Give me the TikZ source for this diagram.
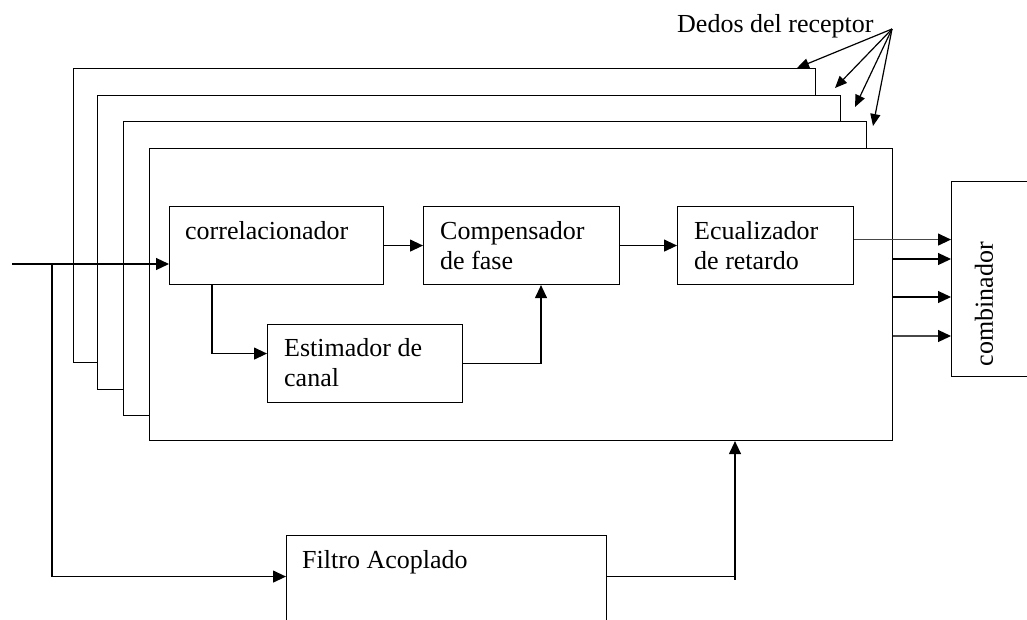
\documentclass[tikz,border=0pt]{standalone}
\usepackage{fontspec}
\setmainfont{Liberation Serif}
\usetikzlibrary{arrows.meta}
\begin{document}
\begin{tikzpicture}[x=1pt,y=-1pt,
  box/.style={draw, line width=1.1pt, inner sep=0pt, anchor=north west, fill=white},
  txt/.style={font=\fontsize{26}{30}\selectfont, inner sep=0pt, anchor=base west},
  conn/.style={line width=1.2pt},
  arr/.style={conn, -{Triangle[length=13pt,width=12pt]}},
  smallarr/.style={conn, -{Triangle[length=12pt,width=10pt]}},
  greyarr/.style={conn, draw=black!72, -{Triangle[length=13pt,width=12pt,color=black]}}
]
\useasboundingbox (0,0) rectangle (1027,619);
\clip (0,0) rectangle (1027,619);
% stacked receiver fingers
\node[box, minimum width=742pt, minimum height=294pt] (f1) at (73,68) {};
\node[box, minimum width=743pt, minimum height=294pt] (f2) at (97,95) {};
\node[box, minimum width=743pt, minimum height=294pt] (f3) at (123,121) {};
\node[box, minimum width=743pt, minimum height=292pt] (f4) at (149,148) {};
% inner blocks
\node[box, minimum width=214pt, minimum height=78pt] (corr) at (169,206) {};
\node[box, minimum width=196pt, minimum height=78pt] (comp) at (423,206) {};
\node[box, minimum width=176pt, minimum height=78pt] (ecu) at (677,206) {};
\node[box, minimum width=195pt, minimum height=78pt] (est) at (267,324) {};
\node[box, minimum width=320pt, minimum height=120pt] (filt) at (286,535) {};
\node[box, minimum width=100pt, minimum height=195pt] (comb) at (951,181) {};
% texts
\node[txt] (tcorr) at (185,239) {correlacionador};
\node[txt] (tcomp1) at (440,239) {Compensador};
\node[txt] (tcomp2) at (440,269) {de fase};
\node[txt] (tecu1) at (694,239) {Ecualizador};
\node[txt] (tecu2) at (694,269) {de retardo};
\node[txt] (test1) at (284,356) {Estimador de};
\node[txt] (test2) at (284,386) {canal};
\node[txt] (tfilt) at (302,568) {Filtro Acoplado};
\node[txt] (tded) at (677,32) {Dedos del receptor};
\node[txt, anchor=center, rotate=90] (tcomb) at (984,304) {combinador};
% coordinates
\coordinate (in) at (12,264);
\coordinate (br) at (52,264);
\coordinate (dd) at (892,29);
\coordinate (d1) at (797,68);
\coordinate (d2) at (835,88);
\coordinate (d3) at (855,107);
\coordinate (d4) at (873,126);
\coordinate (o1) at ([yshift=6pt]ecu.east);
\coordinate (o2) at ([yshift=-111pt]f4.north east);
\coordinate (o3) at ([yshift=-149pt]f4.north east);
\coordinate (o4) at ([yshift=-188pt]f4.north east);
\coordinate (fa) at ([xshift=586pt]f4.south west);
\coordinate (fb) at ([yshift=16pt]filt.east -| fa);
% connectors
\draw[arr] (in) -- (in -| corr.west);
\draw[arr] (corr.east) -- (comp.west);
\draw[arr] (comp.east) -- (ecu.west);
\draw[arr] ([xshift=43pt]corr.south west) |- ([yshift=10pt]est.west);
\draw[arr] (est.east) -| ([xshift=118pt]comp.south west);
\draw[arr] (br) |- ([yshift=19pt]filt.west);
\draw[conn] ([yshift=19pt]filt.east) -- ([yshift=19pt]filt.east -| fa);
\draw[arr] (fb) -- (fa);
\draw[greyarr] (o1) -- (o1 -| comb.west);
\draw[arr] (o2) -- (o2 -| comb.west);
\draw[arr] (o3) -- (o3 -| comb.west);
\draw[greyarr] (o4) -- (o4 -| comb.west);
\foreach \t in {d1,d2,d3,d4} \draw[smallarr] (dd) -- (\t);
\end{tikzpicture}
\end{document}
